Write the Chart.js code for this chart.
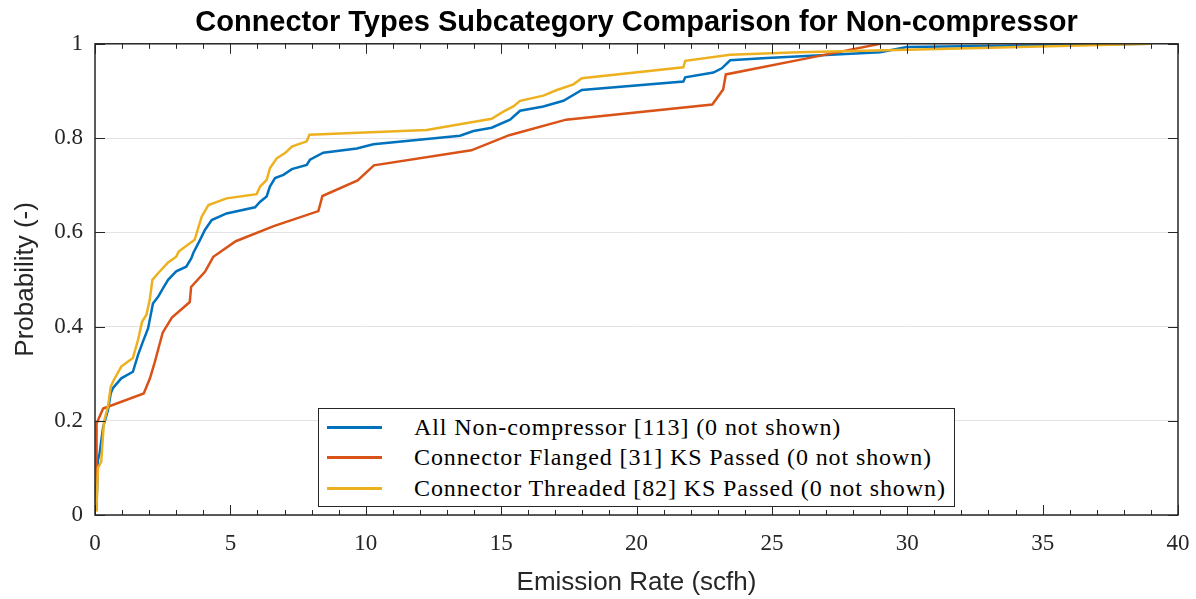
<!DOCTYPE html>
<html lang="en">
<head>
    <meta charset="UTF-8">
    <title>Connector Types Subcategory Comparison</title>
    <style>
        body {
            margin: 0;
            background: #ffffff;
        }

        #wrap {
            position: relative;
            width: 1196px;
            height: 599px;
        }

        #legend {
            position: absolute;
            left: 318px;
            top: 408px;
            width: 635px;
            height: 97px;
            border: 1px solid #262626;
            background: #ffffff;
            font-family: "Liberation Serif", "DejaVu Serif", serif;
            font-size: 24px;
            letter-spacing: 0.9px;
            color: #000000;
            box-sizing: content-box;
        }

        #legend .row {
            position: absolute;
            left: 0;
            height: 30px;
            display: flex;
            align-items: center;
            white-space: nowrap;
        }

        #legend .swatch {
            display: inline-block;
            width: 55px;
            height: 3px;
            margin-left: 8px;
            margin-right: 32px;
        }
    </style>
    <script src="https://cdn.jsdelivr.net/npm/chart.js"></script>
</head>
<body>

<div id="wrap">
    <canvas id="cdfChart" width="1196" height="599"></canvas>
    <div id="legend"></div>
</div>

<script>
    // series labels
    var seriesNames = [
        'All Non-compressor [113] (0 not shown)',
        'Connector Flanged [31] KS Passed (0 not shown)',
        'Connector Threaded [82] KS Passed (0 not shown)'
    ];

    // All Non-compressor
    var allX = [0.05, 0.11, 0.17, 0.3, 0.48, 0.58, 0.66, 0.97, 1.4, 1.59, 1.77, 1.96, 2.14, 2.33, 2.51, 2.7, 3.0, 3.37, 3.56, 3.63,
        3.88, 4.06, 4.31, 4.86, 5.91, 6.1, 6.34, 6.46, 6.65, 6.96, 7.27, 7.82, 7.94, 8.43, 9.67, 10.28, 13.48, 13.98, 14.65, 15.33,
        15.7, 16.56, 17.3, 17.98, 21.73, 21.8, 22.84, 23.15, 23.46, 24.81, 29.0, 29.98, 38.97];
    var allY = [0.009, 0.117, 0.131, 0.187, 0.223, 0.258, 0.269, 0.29, 0.304, 0.34, 0.368, 0.396, 0.449, 0.463, 0.481, 0.499, 0.517, 0.527, 0.545, 0.556,
        0.584, 0.605, 0.626, 0.64, 0.653, 0.665, 0.676, 0.697, 0.715, 0.722, 0.734, 0.743, 0.754, 0.769, 0.778, 0.787, 0.805, 0.815, 0.822, 0.839,
        0.858, 0.867, 0.879, 0.902, 0.92, 0.929, 0.939, 0.948, 0.965, 0.97, 0.982, 0.993, 1.0];

    // Connector Flanged
    var flangedX = [0.03, 0.04, 0.05, 0.05, 0.06, 0.07, 0.3, 1.8, 2.03, 2.2, 2.35, 2.5, 2.84, 3.5, 3.55, 4.06, 4.37, 5.2, 6.6, 8.25,
        8.4, 9.7, 10.3, 13.9, 15.3, 17.4, 22.8, 23.2, 23.3, 26.2, 29.0];
    var flangedY = [0.032, 0.065, 0.097, 0.129, 0.161, 0.194, 0.226, 0.258, 0.29, 0.323, 0.355, 0.387, 0.419, 0.452, 0.484, 0.516, 0.548, 0.581, 0.613, 0.645,
        0.677, 0.71, 0.742, 0.774, 0.806, 0.839, 0.871, 0.903, 0.935, 0.968, 1.0];

    // Connector Threaded
    var threadedX = [0.05, 0.11, 0.23, 0.33, 0.48, 0.58, 0.7, 0.97, 1.4, 1.59, 1.74, 1.9, 2.02, 2.12, 2.33, 2.7, 3.0, 3.09, 3.68, 3.94,
        4.19, 4.86, 5.97, 6.1, 6.34, 6.46, 6.71, 7.02, 7.27, 7.82, 7.92, 12.25, 14.65, 15.08, 15.45, 15.7, 16.56, 17.06, 17.67, 17.98,
        21.73, 21.8, 23.46, 26.0, 31.2, 38.97];
    var threadedY = [0.007, 0.1, 0.113, 0.198, 0.23, 0.272, 0.287, 0.315, 0.333, 0.372, 0.41, 0.425, 0.456, 0.499, 0.513, 0.536, 0.548, 0.559, 0.584, 0.633,
        0.658, 0.672, 0.681, 0.697, 0.711, 0.736, 0.757, 0.768, 0.782, 0.793, 0.807, 0.817, 0.841, 0.856, 0.867, 0.879, 0.89, 0.902, 0.914, 0.927,
        0.95, 0.964, 0.977, 0.982, 0.989, 1.0];

    var xTicks = [0, 5, 10, 15, 20, 25, 30, 35, 40];
    var yTicks = [0, 0.2, 0.4, 0.6, 0.8, 1];
    var yTickLabels = ['0', '0.2', '0.4', '0.6', '0.8', '1'];

    var seriesColors = ['#0072BD', '#D95319', '#EDB120'];

    function toPoints(xs, ys) {
        var pts = [];
        for (var i = 0; i < xs.length; i++) {
            pts.push({x: xs[i], y: ys[i]});
        }
        return pts;
    }

    // box + inward ticks, matlab style
    var frameTicks = {
        id: 'frameTicks',
        afterDatasetsDraw: function (chart) {
            var ctx = chart.ctx;
            var area = chart.chartArea;
            var xs = chart.scales.x;
            var ys = chart.scales.y;
            ctx.save();
            ctx.strokeStyle = '#262626';
            ctx.lineWidth = 1;
            ctx.beginPath();
            for (var v = 0; v <= 40; v++) {
                var px = Math.round(xs.getPixelForValue(v)) + 0.5;
                var len = (v % 5 === 0) ? 10 : 5;
                ctx.moveTo(px, area.bottom);
                ctx.lineTo(px, area.bottom - len);
                ctx.moveTo(px, area.top);
                ctx.lineTo(px, area.top + len);
            }
            yTicks.forEach(function (t) {
                var py = Math.round(ys.getPixelForValue(t)) + 0.5;
                ctx.moveTo(area.left, py);
                ctx.lineTo(area.left + 10, py);
                ctx.moveTo(area.right, py);
                ctx.lineTo(area.right - 10, py);
            });
            ctx.stroke();
            ctx.lineWidth = 1.5;
            ctx.strokeRect(area.left, area.top, area.right - area.left, area.bottom - area.top);
            ctx.restore();
        }
    };

    var ctx = document.getElementById('cdfChart').getContext('2d');
    var chart = new Chart(ctx, {
        type: 'scatter',
        data: {
            datasets: [
                {
                    label: seriesNames[0],
                    data: toPoints(allX, allY),
                    borderColor: seriesColors[0],
                    order: 2
                },
                {
                    label: seriesNames[1],
                    data: toPoints(flangedX, flangedY),
                    borderColor: seriesColors[1],
                    order: 1
                },
                {
                    label: seriesNames[2],
                    data: toPoints(threadedX, threadedY),
                    borderColor: seriesColors[2],
                    order: 0
                }
            ]
        },
        options: {
            responsive: false,
            animation: false,
            showLine: true,
            elements: {
                point: {radius: 0, hoverRadius: 0},
                line: {borderWidth: 2.5, tension: 0, fill: false}
            },
            layout: {
                padding: {left: 0, right: 18, top: 0, bottom: 0}
            },
            scales: {
                x: {
                    type: 'linear',
                    min: 0,
                    max: 40,
                    afterFit: function (scale) {
                        scale.height = 84;
                        // don't let the last label push the plot edge in
                        scale.paddingLeft = 0;
                        scale.paddingRight = 0;
                    },
                    afterBuildTicks: function (scale) {
                        scale.ticks = xTicks.map(function (v) { return {value: v}; });
                    },
                    grid: {display: false, drawTicks: false},
                    border: {display: false},
                    ticks: {
                        padding: 15,
                        color: '#262626',
                        maxRotation: 0,
                        font: {family: '"Liberation Serif", serif', size: 23}
                    },
                    title: {
                        display: true,
                        text: 'Emission Rate (scfh)',
                        color: '#262626',
                        padding: {top: 0, bottom: 1},
                        font: {family: '"Liberation Sans", Arial, sans-serif', size: 26}
                    }
                },
                y: {
                    type: 'linear',
                    min: 0,
                    max: 1,
                    afterFit: function (scale) {
                        scale.width = 95;
                        scale.paddingTop = 0;
                        scale.paddingBottom = 0;
                    },
                    afterBuildTicks: function (scale) {
                        scale.ticks = yTicks.map(function (v) { return {value: v}; });
                    },
                    grid: {color: '#e3e3e3', lineWidth: 1, drawTicks: false},
                    border: {display: false},
                    ticks: {
                        padding: 12,
                        color: '#262626',
                        font: {family: '"Liberation Serif", serif', size: 23},
                        callback: function (value, index) { return yTickLabels[index]; }
                    },
                    title: {
                        display: true,
                        text: 'Probability (-)',
                        color: '#262626',
                        padding: {top: 10, bottom: 0},
                        font: {family: '"Liberation Sans", Arial, sans-serif', size: 26}
                    }
                }
            },
            plugins: {
                legend: {display: false},
                tooltip: {enabled: false},
                title: {
                    display: true,
                    fullSize: false,
                    text: 'Connector Types Subcategory Comparison for Non-compressor',
                    color: '#000000',
                    padding: {top: 6, bottom: 3},
                    font: {family: '"Liberation Sans", Arial, sans-serif', size: 29, weight: 'bold', lineHeight: 1.2}
                }
            }
        },
        plugins: [frameTicks]
    });

    // html legend built from the datasets
    var legendBox = document.getElementById('legend');
    chart.data.datasets.forEach(function (ds, i) {
        var row = document.createElement('div');
        row.className = 'row';
        row.style.top = (3 + i * 30.5) + 'px';
        var sw = document.createElement('span');
        sw.className = 'swatch';
        sw.style.background = ds.borderColor;
        var label = document.createElement('span');
        label.textContent = ds.label;
        row.appendChild(sw);
        row.appendChild(label);
        legendBox.appendChild(row);
    });
</script>

</body>
</html>
